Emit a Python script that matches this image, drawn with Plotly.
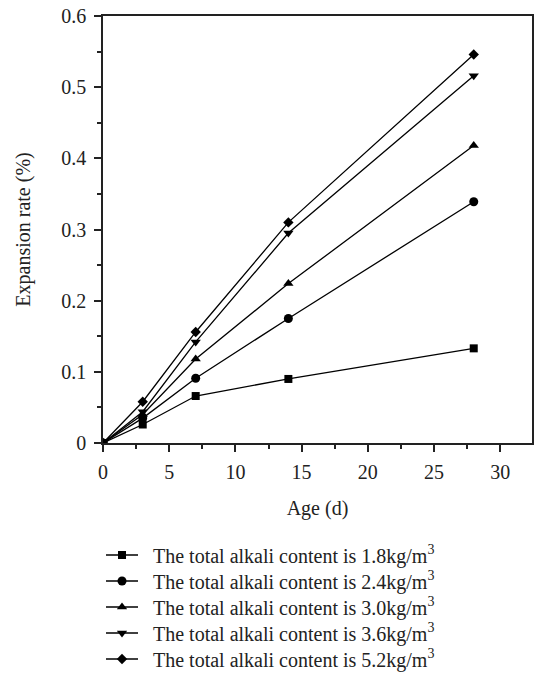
import plotly.graph_objects as go

age = [0, 3, 7, 14, 28]
alk_18 = [0, 0.026, 0.066, 0.090, 0.133]
alk_24 = [0, 0.035, 0.091, 0.175, 0.339]
alk_30 = [0, 0.040, 0.118, 0.224, 0.418]
alk_36 = [0, 0.044, 0.142, 0.295, 0.516]
alk_52 = [0, 0.058, 0.156, 0.310, 0.546]

labels = [
    "The total alkali content is 1.8kg/m<sup>3</sup>",
    "The total alkali content is 2.4kg/m<sup>3</sup>",
    "The total alkali content is 3.0kg/m<sup>3</sup>",
    "The total alkali content is 3.6kg/m<sup>3</sup>",
    "The total alkali content is 5.2kg/m<sup>3</sup>",
]
values = [alk_18, alk_24, alk_30, alk_36, alk_52]
symbols = ["square", "circle", "triangle-up", "triangle-down", "diamond"]
sizes = [8, 9, 9, 9, 8]

FONT = "Liberation Serif"
INK = "#222"

# plot geometry (px)
W, H = 535, 680
ML, MR, MT, MB = 103, 1, 16, 237
PH = H - MT - MB
row_centers = [555, 581, 607, 633, 659]

fig = go.Figure()
legend_ids = ["legend", "legend2", "legend3", "legend4", "legend5"]
for i, (name, vals, sym, sz) in enumerate(zip(labels, values, symbols, sizes)):
    fig.add_trace(go.Scatter(
        x=age, y=vals, name="\u00a0\u00a0" + name, mode="lines+markers",
        line=dict(color="black", width=1.3),
        marker=dict(symbol=sym, size=sz, color="black"),
        legend=legend_ids[i],
    ))

axis_common = dict(
    showline=True, linecolor=INK, linewidth=1.5, mirror=True,
    ticks="outside", ticklen=7, tickwidth=1.5, tickcolor=INK,
    showgrid=False, zeroline=False,
    tickfont=dict(family=FONT, size=20, color=INK),
)

fig.update_xaxes(
    range=[0, 32.4], tick0=0, dtick=5, ticklabelstandoff=3,
    title=dict(text="Age (d)", font=dict(family=FONT, size=20, color=INK), standoff=19),
    minor=dict(ticks="outside", ticklen=4, tickwidth=1.5, tickcolor=INK, dtick=2.5, tick0=0),
    **axis_common,
)
fig.update_yaxes(
    range=[0, 0.6], tick0=0, dtick=0.1, ticklabelstandoff=4,
    title=dict(text="Expansion rate (%)", font=dict(family=FONT, size=20, color=INK), standoff=25),
    minor=dict(ticks="outside", ticklen=4, tickwidth=1.5, tickcolor=INK, dtick=0.05, tick0=0),
    **axis_common,
)

LEG_FS = 20
legends = {}
for lid, c in zip(legend_ids, row_centers):
    top_px = c - (5 + (LEG_FS * 1.3 + 3) / 2)
    legends[lid] = dict(
        x=(101 - ML) / (W - ML - MR), y=-(top_px - (MT + PH)) / PH,
        xanchor="left", yanchor="top",
        font=dict(family=FONT, size=LEG_FS, color=INK),
        bgcolor="rgba(0,0,0,0)", itemwidth=32,
    )

fig.update_layout(
    width=W, height=H,
    margin=dict(l=ML, r=MR, t=MT, b=MB),
    plot_bgcolor="white", paper_bgcolor="white",
    font=dict(family=FONT, size=20, color=INK),
    showlegend=True,
    **legends,
)

fig.write_html("out.html")
